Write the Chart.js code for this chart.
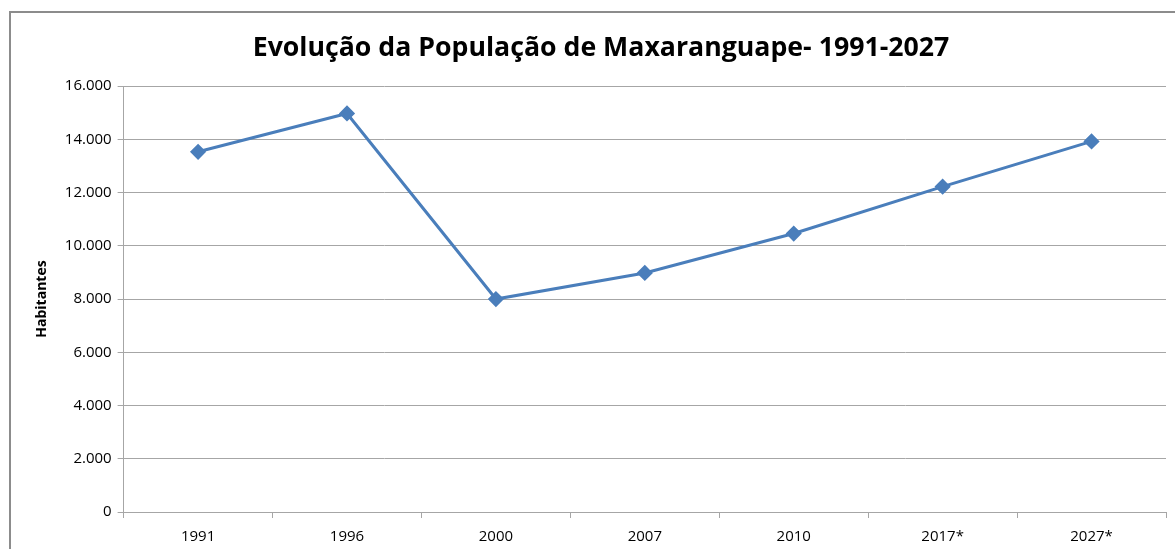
<!DOCTYPE html>
<html lang="pt">
<head>
  <meta charset="UTF-8" />
  <title>Evolução da População de Maxaranguape</title>
  <script src="https://cdn.jsdelivr.net/npm/chart.js"></script>
  <style>
    html, body { margin: 0; padding: 0; background: #fff; overflow: hidden; }
    #wrap { position: relative; width: 1175px; height: 549px; }
    #frame {
      position: absolute; left: 9px; top: 11px; width: 1200px; height: 600px;
      border: 2px solid #8c8c8c; box-sizing: border-box; pointer-events: none;
    }
  </style>
</head>
<body>
  <div id="wrap">
    <canvas id="popChart" width="1175" height="549"></canvas>
    <div id="frame"></div>
  </div>

  <script>
    const anos = ["1991", "1996", "2000", "2007", "2010", "2017*", "2027*"];
    const habitantes = [13530, 14970, 8000, 8980, 10460, 12220, 13920];
    const yTicks = [0, 2000, 4000, 6000, 8000, 10000, 12000, 14000, 16000];

    const fmt = v => String(v).replace(/\B(?=(\d{3})+(?!\d))/g, ".");
    const gridCor = "#a6a6a6";

    new Chart(document.getElementById("popChart"), {
      type: "line",
      data: {
        labels: anos,
        datasets: [{
          label: "Habitantes",
          data: habitantes,
          borderColor: "#4a7ebb",
          backgroundColor: "#4a7ebb",
          borderWidth: 3,
          pointStyle: "rectRot",
          pointRadius: 6,
          pointHoverRadius: 6,
          tension: 0
        }]
      },
      options: {
        responsive: false,
        animation: false,
        layout: { padding: { left: 34, right: 7, top: 32, bottom: -7 } },
        plugins: {
          legend: { display: false },
          tooltip: { enabled: false },
          title: {
            display: true,
            text: "Evolução da População de Maxaranguape- 1991-2027",
            color: "#000",
            font: { family: "Open Sans", size: 26.7, weight: "bold" },
            padding: { top: 0, bottom: 22 }
          }
        },
        scales: {
          x: {
            offset: true,
            grid: { offset: true, drawOnChartArea: false, drawTicks: true, tickLength: 6, color: gridCor },
            border: { color: gridCor, width: 1 },
            ticks: { color: "#000", font: { family: "Open Sans", size: 15 }, padding: 10 }
          },
          y: {
            min: 0,
            max: 16000,
            afterBuildTicks: axis => { axis.ticks = yTicks.map(v => ({ value: v })); },
            grid: { color: gridCor, tickLength: 6 },
            border: { color: gridCor, width: 1 },
            ticks: { color: "#000", font: { family: "Open Sans", size: 15 }, padding: 6, callback: v => fmt(v) },
            title: {
              display: true,
              text: "Habitantes",
              color: "#000",
              font: { family: "Open Sans", size: 14, weight: "bold" },
              padding: { top: 0, bottom: 8 }
            }
          }
        }
      }
    });
  </script>
</body>
</html>
